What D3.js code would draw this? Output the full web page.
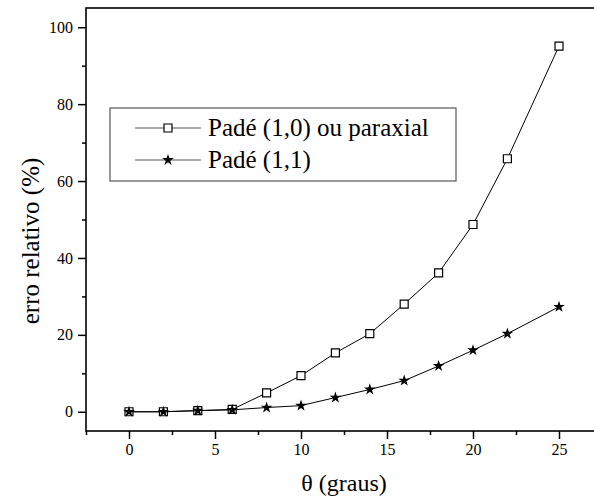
<!DOCTYPE html>
<html>
<head>
<meta charset="utf-8">
<script src="https://cdnjs.cloudflare.com/ajax/libs/d3/7.8.5/d3.min.js"></script>
<style>
  body { margin: 0; background: #fff; }
  text { font-family: "Liberation Serif", "Times New Roman", serif; fill: #000; }
</style>
</head>
<body>
<svg></svg>
<script>
var width = 594;
var height = 500;

var angles = [0, 2, 4, 6, 8, 10, 12, 14, 16, 18, 20, 22, 25];
var pade10 = [0, 0, 0.3, 0.6, 4.9, 9.4, 15.3, 20.3, 28.0, 36.1, 48.7, 65.8, 95.1];
var pade11 = [0, 0, 0.3, 0.5, 1.1, 1.6, 3.7, 5.8, 8.1, 11.9, 16.0, 20.3, 27.3];
var xTicks = [0, 5, 10, 15, 20, 25];
var yTicks = [0, 20, 40, 60, 80, 100];
var seriesNames = ['Padé (1,0) ou paraxial', 'Padé (1,1)'];

var serif = '"Liberation Serif", "Times New Roman", serif';

var svg = d3.select('svg')
            .attr('width', width)
            .attr('height', height);

var plotLeft = 86, plotTop = 8, plotRight = 602, plotBottom = 431;

var x = d3.scaleLinear().domain([-2.5, 27.5]).range([plotLeft, plotRight]);
var y = d3.scaleLinear().domain([-5, 105]).range([plotBottom, plotTop]);

// minor ticks
var xMinor = d3.range(-2.5, 28, 2.5).filter(d => xTicks.indexOf(d) < 0);
var yMinor = d3.range(10, 100, 20);

function styleAxis(g) {
  g.attr('font-family', serif);
  g.select('.domain').remove();
  g.selectAll('line').attr('stroke-width', 1.5);
  g.selectAll('text')
   .style('font-size', '16px')
   .style('font-family', serif);
}

svg.append('g')
   .attr('transform', 'translate(0,' + plotBottom + ')')
   .call(d3.axisBottom(x).tickValues(xMinor).tickSize(4).tickFormat(''))
   .call(styleAxis);

svg.append('g')
   .attr('transform', 'translate(0,' + plotBottom + ')')
   .call(d3.axisBottom(x).tickValues(xTicks).tickSize(8).tickPadding(5).tickFormat(d3.format('d')))
   .call(styleAxis);

svg.append('g')
   .attr('transform', 'translate(' + plotLeft + ',0)')
   .call(d3.axisLeft(y).tickValues(yMinor).tickSize(4).tickFormat(''))
   .call(styleAxis);

svg.append('g')
   .attr('transform', 'translate(' + plotLeft + ',0)')
   .call(d3.axisLeft(y).tickValues(yTicks).tickSize(8).tickPadding(5).tickFormat(d3.format('d')))
   .call(styleAxis);

// frame
svg.append('rect')
   .attr('x', plotLeft).attr('y', plotTop)
   .attr('width', plotRight - plotLeft).attr('height', plotBottom - plotTop)
   .attr('fill', 'none')
   .attr('stroke', '#000')
   .attr('stroke-width', 1.6);

var line = d3.line().x(d => x(d[0])).y(d => y(d[1]));
var squareSym = d3.symbol().type(d3.symbolSquare).size(64);
var starSym = d3.symbol().type(d3.symbolStar).size(42);

var data10 = angles.map((a, i) => [a, pade10[i]]);
var data11 = angles.map((a, i) => [a, pade11[i]]);

svg.append('path')
   .datum(data10)
   .attr('d', line)
   .attr('fill', 'none')
   .attr('stroke', '#000')
   .attr('stroke-width', 1);

svg.append('g')
   .selectAll('path')
   .data(data10)
   .enter()
   .append('path')
   .attr('d', squareSym)
   .attr('transform', d => 'translate(' + x(d[0]) + ',' + y(d[1]) + ')')
   .attr('fill', '#fff')
   .attr('stroke', '#000')
   .attr('stroke-width', 1.2);

svg.append('path')
   .datum(data11)
   .attr('d', line)
   .attr('fill', 'none')
   .attr('stroke', '#000')
   .attr('stroke-width', 1);

svg.append('g')
   .selectAll('path')
   .data(data11)
   .enter()
   .append('path')
   .attr('d', starSym)
   .attr('transform', d => 'translate(' + x(d[0]) + ',' + y(d[1]) + ')')
   .attr('fill', '#000');

// legend
var legend = svg.append('g');
legend.append('rect')
      .attr('x', 110).attr('y', 108)
      .attr('width', 346).attr('height', 73)
      .attr('fill', '#fff')
      .attr('stroke', '#555')
      .attr('stroke-width', 1.2);

var rows = [128, 160];
rows.forEach(function(ry, i) {
  legend.append('line')
        .attr('x1', 135).attr('x2', 201)
        .attr('y1', ry).attr('y2', ry)
        .attr('stroke', '#555')
        .attr('stroke-width', 1.2);
  legend.append('path')
        .attr('d', i == 0 ? squareSym() : starSym())
        .attr('transform', 'translate(168,' + ry + ')')
        .attr('fill', i == 0 ? '#fff' : '#000')
        .attr('stroke', i == 0 ? '#000' : 'none')
        .attr('stroke-width', 1.2);
  legend.append('text')
        .attr('x', 208).attr('y', ry + 8)
        .style('font-family', serif)
        .style('font-size', '25px')
        .text(seriesNames[i]);
});

// axis titles
svg.append('text')
   .attr('x', 344).attr('y', 491)
   .attr('text-anchor', 'middle')
   .style('font-family', serif)
   .style('font-size', '24px')
   .text('θ (graus)');

svg.append('text')
   .attr('transform', 'translate(39,241) rotate(-90)')
   .attr('text-anchor', 'middle')
   .style('font-family', serif)
   .style('font-size', '25px')
   .text('erro relativo (%)');
</script>
</body>
</html>
